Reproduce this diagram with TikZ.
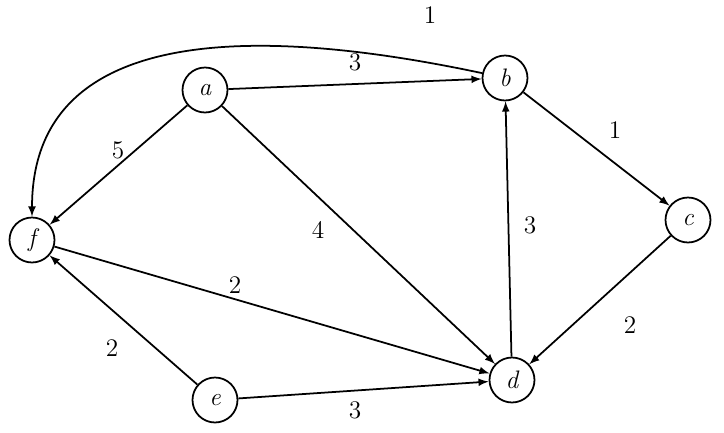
\documentclass[tikz,border=0pt]{standalone}
\usetikzlibrary{arrows}
\begin{document}
\begin{tikzpicture}[x=0.02cm,y=-0.02cm,
  vertex/.style={draw, line width=1pt, circle, minimum size=0.9cm, inner sep=0pt, font=\Large\itshape},
  edge/.style={-latex, line width=1pt},
  wt/.style={font=\Large}]
  \useasboundingbox (0,0) rectangle (724,433);
  % vertices
  \node[vertex] (a) at (205,90) {a};
  \node[vertex] (b) at (505,78) {b};
  \node[vertex] (c) at (688,220) {c};
  \node[vertex] (d) at (512,380) {d};
  \node[vertex] (e) at (215,400) {e};
  \node[vertex] (f) at (32,240) {f};
  % edges
  \draw[edge] (a) -- (b);
  \draw[edge] (b) -- (c);
  \draw[edge] (c) -- (d);
  \draw[edge] (d) -- (b);
  \draw[edge] (a) -- (d);
  \draw[edge] (a) -- (f);
  \draw[edge] (f) -- (d);
  \draw[edge] (e) -- (f);
  \draw[edge] (e) -- (d);
  \draw[edge] (b) to[out=168, in=90, looseness=1.1] (f);
  % weights
  \node[wt] at (355,62) {3};
  \node[wt] at (615,130) {1};
  \node[wt] at (630,325) {2};
  \node[wt] at (530,225) {3};
  \node[wt] at (318,230) {4};
  \node[wt] at (118,150) {5};
  \node[wt] at (235,285) {2};
  \node[wt] at (112,348) {2};
  \node[wt] at (355,410) {3};
  \node[wt] at (430,15) {1};
\end{tikzpicture}
\end{document}
